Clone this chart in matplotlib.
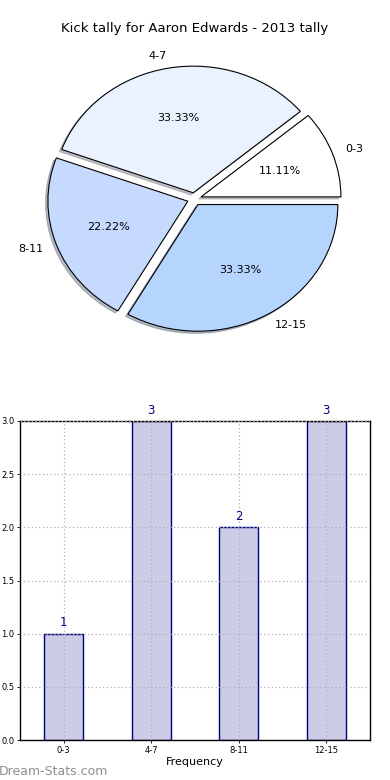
import matplotlib
matplotlib.use("Agg")
import matplotlib.pyplot as plt

categories = ["0-3", "4-7", "8-11", "12-15"]
counts = [1, 3, 2, 3]
pie_colors = ["#ffffff", "#eaf1ff", "#c6d9ff", "#b5d5ff"]
title = "Kick tally for Aaron Edwards - 2013 tally"

plt.rcParams['font.family'] = ['DejaVu Sans']
fig = plt.figure(figsize=(3.9, 7.8), dpi=100, facecolor='white')

# Pie
axp = fig.add_axes([0.05, 0.5418, 0.897, 0.406])
wedges, texts, autotexts = axp.pie(
    counts, labels=categories, colors=pie_colors, explode=[0.05] * 4,
    shadow={'ox': -0.012, 'oy': -0.012, 'shade': 0.45}, startangle=0,
    counterclock=True, autopct='%.2f%%',
    wedgeprops=dict(edgecolor='black', linewidth=0.8),
    textprops=dict(fontsize=8))
axp.set_aspect('auto')
axp.set_xlim(-1.25, 1.25)
axp.set_ylim(-1.25, 1.25)
axp.set_title(title, fontsize=9.5, pad=6)

# Bar
axb = fig.add_axes([20 / 390, 40 / 780, 350 / 390, 319 / 780])
x = list(range(len(categories)))
bars = axb.bar(x, counts, width=0.45, color='#ccccE6', edgecolor='navy', linewidth=1)
axb.set_xlim(-0.5, 3.5)
axb.set_ylim(0, 3)
axb.set_xticks(x)
axb.set_xticklabels(categories, fontsize=6)
axb.set_yticks([0, 0.5, 1.0, 1.5, 2.0, 2.5, 3.0])
axb.set_yticklabels(["%.1f" % v for v in [0, 0.5, 1.0, 1.5, 2.0, 2.5, 3.0]], fontsize=6)
axb.tick_params(length=2, width=0.6, pad=2)
axb.grid(True, linestyle=(0, (1, 2)), color='#b0b0b0', linewidth=0.9)
axb.set_axisbelow(False)
for sp in axb.spines.values():
    sp.set_linewidth(1)
for xi, c in zip(x, counts):
    axb.text(xi, c + 0.04, str(c), ha='center', va='bottom', color='navy', fontsize=8.5)
axb.set_xlabel("Frequency", fontsize=8, labelpad=2)

fig.text(-0.003, 0.003, "Dream-Stats.com", color='#909090', fontsize=9, ha='left', va='bottom')

fig.savefig("out.png", dpi=100, facecolor='white')
